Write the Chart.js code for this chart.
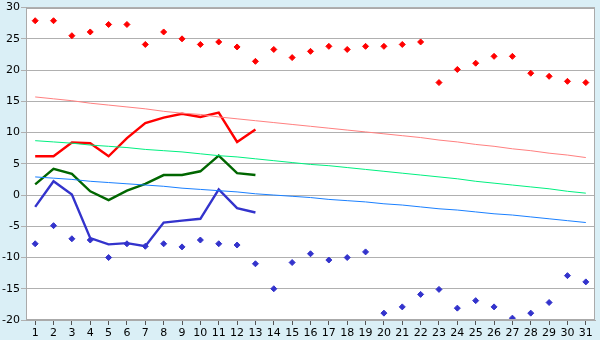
<!DOCTYPE html>
<html>
<head>
<meta charset="utf-8">
<style>
html,body{margin:0;padding:0;background:#daeff6;}
canvas{display:block;}
</style>
<script src="https://cdn.jsdelivr.net/npm/chart.js"></script>
</head>
<body>
<canvas id="c" width="600" height="340"></canvas>
<script>
const days = ['1','2','3','4','5','6','7','8','9','10','11','12','13','14','15','16','17','18','19','20','21','22','23','24','25','26','27','28','29','30','31'];
const recordMax = [27.9,27.9,25.5,26.1,27.3,27.3,24.1,26.1,25.0,24.1,24.5,23.7,21.4,23.3,22.0,23.0,23.8,23.3,23.8,23.8,24.1,24.5,18.0,20.1,21.1,22.2,22.2,19.5,19.0,18.2,18.0];
const recordMin = [-7.8,-4.9,-7.0,-7.2,-10.0,-7.8,-8.2,-7.8,-8.3,-7.2,-7.8,-8.0,-11.0,-15.0,-10.8,-9.4,-10.4,-10.0,-9.1,-18.9,-17.9,-15.9,-15.1,-18.1,-16.9,-17.9,-19.7,-18.9,-17.2,-12.9,-13.9];
const tMax = [6.2,6.2,8.4,8.3,6.2,9.1,11.5,12.4,13.0,12.5,13.2,8.5,10.5];
const tMean = [1.7,4.2,3.4,0.6,-0.8,0.7,1.8,3.2,3.2,3.8,6.3,3.5,3.2];
const tMin = [-1.9,2.2,0.1,-6.9,-7.9,-7.7,-8.2,-4.4,-4.1,-3.8,0.9,-2.1,-2.8];
const normalMax = [15.7,15.4,15.1,14.7,14.4,14.1,13.8,13.4,13.1,12.9,12.5,12.2,11.9,11.6,11.3,11.0,10.7,10.4,10.1,9.8,9.5,9.2,8.8,8.5,8.1,7.8,7.4,7.1,6.7,6.4,6.0];
const normalMean = [8.7,8.5,8.3,8.0,7.8,7.6,7.3,7.1,6.9,6.6,6.3,6.1,5.8,5.5,5.2,4.9,4.7,4.4,4.1,3.8,3.5,3.2,2.9,2.6,2.2,1.9,1.6,1.3,1.0,0.6,0.3];
const normalMin = [2.9,2.7,2.5,2.2,2.0,1.8,1.6,1.4,1.1,0.9,0.7,0.5,0.2,0.0,-0.2,-0.4,-0.7,-0.9,-1.1,-1.4,-1.6,-1.9,-2.2,-2.4,-2.7,-3.0,-3.2,-3.5,-3.8,-4.1,-4.4];
const yTicks = [-20,-15,-10,-5,0,5,10,15,20,25,30];

const bgPlugin = {
  id: 'bg',
  beforeDraw(chart) {
    const ctx = chart.ctx, a = chart.chartArea;
    ctx.save();
    ctx.fillStyle = '#daeff6';
    ctx.fillRect(0, 0, chart.width, chart.height);
    ctx.fillStyle = '#ffffff';
    ctx.fillRect(a.left, a.top, a.right - a.left, a.bottom - a.top);
    ctx.restore();
  },
  afterDatasetsDraw(chart) {
    const ctx = chart.ctx, a = chart.chartArea;
    ctx.save();
    ctx.strokeStyle = '#aaaaaa';
    ctx.lineWidth = 1;
    ctx.strokeRect(Math.round(a.left) + 0.5, Math.round(a.top) + 0.5, Math.round(a.right - a.left) - 1, Math.round(a.bottom - a.top) - 1);
    ctx.restore();
  }
};

const thin = (data, color) => ({data, borderColor: color, backgroundColor: color, borderWidth: 1, pointRadius: 0, tension: 0, fill: false});
const thick = (data, color) => ({data, borderColor: color, backgroundColor: color, borderWidth: 2.4, pointRadius: 0, tension: 0, fill: false});
const dots = (data, color) => ({data, borderColor: color, backgroundColor: color, showLine: false, pointStyle: 'rectRot', pointRadius: 3, borderWidth: 1});

new Chart(document.getElementById('c'), {
  type: 'line',
  data: {
    labels: days,
    datasets: [
      thin(normalMax, '#ff8080'),
      thin(normalMean, '#00f080'),
      thin(normalMin, '#1a80ff'),
      thick(tMax, '#ff0000'),
      thick(tMean, '#006600'),
      thick(tMin, '#3333cc'),
      dots(recordMax, '#ff0000'),
      dots(recordMin, '#3333cc')
    ]
  },
  options: {
    responsive: false,
    animation: false,
    devicePixelRatio: 1,
    layout: {padding: {top: 5, right: 5, left: 0, bottom: 0}},
    plugins: {legend: {display: false}, tooltip: {enabled: false}},
    scales: {
      x: {
        type: 'category',
        offset: true,
        grid: {display: true, drawOnChartArea: false, drawTicks: true, tickLength: 5, color: '#555555', offset: false},
        border: {color: '#aaaaaa'},
        ticks: {color: '#000000', font: {family: 'DejaVu Sans', size: 11}, padding: 2, maxRotation: 0, autoSkip: false},
        afterFit(s) { s.height = 20; }
      },
      y: {
        min: -20, max: 30,
        afterBuildTicks(s) { s.ticks = yTicks.map(v => ({value: v})); },
        grid: {color: '#b0b0b0', tickLength: 5, drawTicks: true},
        border: {color: '#aaaaaa'},
        ticks: {color: '#000000', font: {family: 'DejaVu Sans', size: 11}, padding: 1},
        afterFit(s) { s.width = 26; }
      }
    }
  },
  plugins: [bgPlugin]
});
</script>
</body>
</html>
